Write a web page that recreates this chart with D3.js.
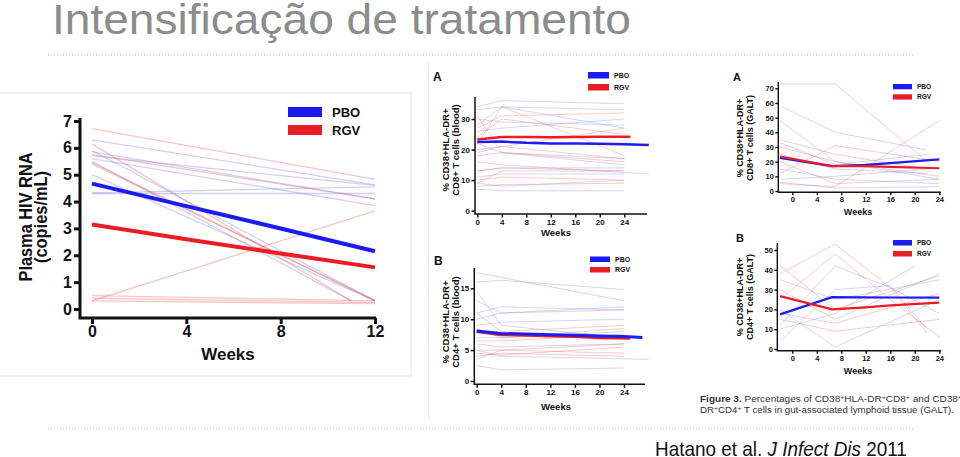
<!DOCTYPE html>
<html><head><meta charset="utf-8">
<script src="https://cdn.jsdelivr.net/npm/d3@7"></script>
<style>
html,body{margin:0;padding:0;background:#fff;overflow:hidden}
svg{display:block}
text{font-family:"Liberation Sans",Arial,sans-serif}
</style></head>
<body>
<svg id="c" width="960" height="457"></svg>
<script>
// ---------------- DATA ----------------
const titleText = "Intensificação de tratamento";
const seriesNames = ["PBO", "RGV"];

// Left: plasma HIV RNA
const leftWeeks = [0, 4, 8, 12];
const leftPBO = [4.67, 3.83, 3.0, 2.15];
const leftRGV = [3.15, 2.6, 2.07, 1.55];
const leftXTicks = [0, 4, 8, 12];
const leftYTicks = [0, 1, 2, 3, 4, 5, 6, 7];
const leftPBOIndiv = [
  [[0, 6.3], [12, 4.62]], [[0, 5.85], [12, 4.1]], [[0, 5.6], [12, 3.85]],
  [[0, 4.3], [12, 4.3]], [[0, 4.32], [12, 4.55]], [[0, 5.0], [12, 0.3]],
  [[0, 5.9], [12, 0.3]], [[0, 5.5], [11, 0.3]], [[0, 5.7], [12, 4.6]]
];
const leftRGVIndiv = [
  [[0, 6.72], [12, 4.83]], [[0, 6.15], [11, 0.3]], [[0, 5.75], [12, 4.1]],
  [[0, 5.45], [12, 0.3]], [[0, 5.4], [12, 0.32]], [[0, 0.3], [12, 3.65]],
  [[0, 0.5], [12, 0.3]], [[0, 0.3], [12, 0.2]], [[0, 0.4], [12, 0.25]]
];

// Middle A: CD8 blood
const cd8bWeeksPBO = [0, 4, 8, 12, 16, 20, 24, 28];
const cd8bPBO = [22.5, 22.6, 22.2, 22.0, 22.0, 21.9, 21.7, 21.5];
const cd8bWeeksRGV = [0, 4, 8, 12, 16, 20, 25];
const cd8bRGV = [23.3, 24.1, 24.1, 24.0, 24.1, 24.2, 24.2];
const bloodXTicks = [0, 4, 8, 12, 16, 20, 24];
const cd8bYTicks = [0, 10, 20, 30];
const cd8bPBOIndiv = [
  [[0, 34], [4, 36], [24, 35]], [[0, 33], [4, 34], [24, 33]], [[0, 30], [4, 29], [24, 28]],
  [[0, 26], [4, 27], [24, 30]], [[0, 22], [4, 19], [24, 15]], [[0, 19], [4, 21], [24, 17]],
  [[0, 13], [4, 14], [24, 14]], [[0, 11], [4, 12], [24, 12]], [[0, 7], [4, 6.5], [24, 6.5]],
  [[0, 28], [4, 34], [24, 27]], [[0, 9], [4, 8], [24, 10]], [[0, 16], [4, 15], [28, 12]]
];
const cd8bRGVIndiv = [
  [[0, 31], [4, 19], [24, 17]], [[0, 27], [4, 31], [24, 32]], [[0, 24], [4, 30], [24, 25]],
  [[0, 20], [4, 21], [24, 27]], [[0, 18], [4, 19], [24, 16]], [[0, 13], [4, 14], [24, 13]],
  [[0, 10], [4, 11], [24, 10]], [[0, 9], [4, 13], [24, 13]], [[0, 8], [4, 8.5], [24, 9]],
  [[0, 22], [4, 34], [24, 18]]
];

// Middle B: CD4 blood
const cd4bWeeksPBO = [0, 4, 8, 12, 16, 20, 24, 27];
const cd4bPBO = [8.1, 7.7, 7.6, 7.5, 7.4, 7.3, 7.2, 7.05];
const cd4bWeeksRGV = [0, 4, 8, 12, 16, 20, 25];
const cd4bRGV = [8.0, 7.5, 7.4, 7.3, 7.2, 7.0, 6.9];
const cd4bYTicks = [0, 5, 10, 15];
const cd4bPBOIndiv = [
  [[0, 16], [4, 16.3], [24, 14.8]], [[0, 11], [4, 12], [24, 11.5]], [[0, 10], [4, 11], [24, 12]],
  [[0, 9], [4, 9.5], [24, 10]], [[0, 7], [4, 7], [24, 8]], [[0, 6], [4, 5.5], [24, 6]],
  [[0, 2.5], [4, 1.8], [24, 2.1]], [[0, 14.5], [4, 9], [24, 7]], [[0, 5], [4, 4], [28, 3.5]]
];
const cd4bRGVIndiv = [
  [[0, 17.5], [24, 13]], [[0, 13], [4, 11], [24, 11.5]], [[0, 11], [4, 8], [24, 9]],
  [[0, 8.5], [4, 7], [24, 8.5]], [[0, 6.5], [4, 6.5], [24, 7.5]], [[0, 5], [4, 5], [24, 6]],
  [[0, 4.5], [4, 4.2], [24, 5.5]], [[0, 4], [4, 4.5], [24, 4]], [[0, 3.5], [4, 5], [24, 4.5]]
];

// Right A: CD8 GALT
const galtXTicks = [0, 4, 8, 12, 16, 20, 24];
const cd8gWeeks = [-2, 6.5, 12, 16, 24];
const cd8gPBO = [22.5, 17, 17.8, 19, 21.5];
const cd8gRGV = [23.5, 17, 17, 16.5, 15.5];
const cd8gYTicks = [0, 10, 20, 30, 40, 50, 60, 70];
const cd8gRGVIndiv = [
  [[-2, 73], [7, 73], [22, 20]], [[-2, 35], [7, 25], [22, 15]], [[-2, 30], [7, 20], [24, 10]],
  [[-2, 12], [7, 31], [24, 20]], [[-2, 5], [7, 3], [24, 48]], [[-2, 20], [7, 5], [24, 8]]
];
const cd8gPBOIndiv = [
  [[-2, 58], [7, 40], [22, 28]], [[-2, 48], [7, 20], [24, 8]], [[-2, 33], [7, 18], [22, 25]],
  [[-2, 15], [7, 8], [24, 5]], [[-2, 8], [7, 10], [22, 15]], [[-2, 6], [7, 2], [24, 3]],
  [[-2, 25], [7, 15], [22, 12]]
];

// Right B: CD4 GALT
const cd4gWeeksPBO = [-2, 6.5, 16, 24];
const cd4gPBO = [17.5, 26.2, 26, 25.9];
const cd4gWeeksRGV = [-2, 6.5, 12, 16, 24];
const cd4gRGV = [26.7, 20, 21, 22, 23.4];
const cd4gYTicks = [0, 10, 20, 30, 40, 50];
const cd4gRGVIndiv = [
  [[-2, 38], [7, 53], [16, 31], [22, 8]], [[-2, 25], [7, 48], [16, 25], [24, 6]],
  [[-2, 42], [7, 20], [24, 37]], [[-2, 15], [7, 9], [24, 15]], [[-2, 18], [7, 13], [24, 28]]
];
const cd4gPBOIndiv = [
  [[-2, 12], [7, 42], [16, 31], [24, 18]], [[-2, 4], [7, 30], [16, 32], [22, 10]],
  [[-2, 35], [7, 25], [24, 35]], [[-2, 20], [7, 1], [24, 25]], [[-2, 30], [7, 15], [24, 38]],
  [[-2, 10], [7, 18], [20, 42]]
];

// ---------------- DRAW ----------------
const svg = d3.select("#c");
const BLUE = "#1c1cf0", RED = "#ec1c24";
const PINK = "rgba(232,110,110,0.40)", LAV = "rgba(120,120,225,0.35)";

// title
svg.append("text").attr("x", 52).attr("y", 34)
  .attr("font-size", 43).attr("fill", "#8c8c8c")
  .attr("textLength", 579).attr("lengthAdjust", "spacingAndGlyphs")
  .text(titleText);
// dotted rules
[55, 429].forEach(yy => svg.append("line").attr("x1", 48).attr("x2", 915).attr("y1", yy).attr("y2", yy)
  .attr("stroke", "#b8b8b8").attr("stroke-width", 1).attr("stroke-dasharray", "1,2"));

// left panel frame
svg.append("rect").attr("x", -1).attr("y", 93).attr("width", 412).attr("height", 283)
  .attr("fill", "none").attr("stroke", "#e2e2e2").attr("stroke-width", 1);
svg.append("line").attr("x1", 428.5).attr("x2", 428.5).attr("y1", 62).attr("y2", 420)
  .attr("stroke", "#ececec");

function zip(w, v) { return w.map((d, i) => [d, v[i]]); }

function panel(c) {
  const g = svg.append("g");
  const x = d3.scaleLinear().domain(c.xDomain).range(c.xRange);
  const y = d3.scaleLinear().domain(c.yDomain).range(c.yRange);
  const line = d3.line().x(d => x(d[0])).y(d => y(d[1]));
  c.indiv.forEach(s => s.data.forEach(pts => g.append("path").attr("d", line(pts))
    .attr("fill", "none").attr("stroke", s.color).attr("stroke-width", c.thinW)));
  c.main.forEach(s => g.append("path").attr("d", line(s.pts)).attr("fill", "none")
    .attr("stroke", s.color).attr("stroke-width", c.mainW).attr("stroke-linejoin", "round"));

  // axes
  const fmt = d3.format("d");
  const xa = g.append("g").attr("transform", `translate(0,${c.xAxisY})`)
    .call(d3.axisBottom(x).tickValues(c.xTicks).tickFormat(fmt).tickSize(c.tick).tickPadding(c.pad).tickSizeOuter(0));
  xa.select(".domain").remove();
  const ya = g.append("g").attr("transform", `translate(${c.yAxisX},0)`)
    .call(d3.axisLeft(y).tickValues(c.yTicks).tickFormat(fmt).tickSize(c.tick).tickPadding(c.pad).tickSizeOuter(0));
  ya.select(".domain").remove();
  [xa, ya].forEach(a => {
    a.selectAll("line").attr("stroke", "#111").attr("stroke-width", c.axW);
    a.selectAll("text").attr("font-size", c.tickFs).attr("font-weight", "bold").attr("fill", "#111")
      .attr("font-family", "'Liberation Sans',Arial,sans-serif");
  });
  g.append("path").attr("d", `M${c.yAxisX},${c.yTop}V${c.xAxisY}H${c.xEnd}`)
    .attr("fill", "none").attr("stroke", "#111").attr("stroke-width", c.axW);

  g.append("text").attr("x", c.weeksX).attr("y", c.weeksY).attr("text-anchor", "middle")
    .attr("font-size", c.titleFs).attr("font-weight", "bold").attr("fill", "#111").text("Weeks");
  c.yTitle.forEach((t, i) => {
    const tt = g.append("text")
      .attr("transform", `translate(${c.yTitleX[i]},${c.yTitleY}) rotate(-90)`)
      .attr("text-anchor", "middle").attr("font-size", c.yTitleFs).attr("font-weight", "bold")
      .attr("fill", "#111").text(t);
    if (c.yTitleLen) tt.attr("textLength", c.yTitleLen[i]).attr("lengthAdjust", "spacingAndGlyphs");
  });
  if (c.letter) g.append("text").attr("x", c.letter[0]).attr("y", c.letter[1])
    .attr("font-size", c.letterFs).attr("font-weight", "bold").attr("fill", "#111").text(c.letter[2]);
  // legend
  seriesNames.forEach((n, i) => {
    const ly = c.leg.y + i * c.leg.dy;
    g.append("rect").attr("x", c.leg.x).attr("y", ly).attr("width", c.leg.w).attr("height", c.leg.h)
      .attr("fill", i === 0 ? BLUE : RED);
    g.append("text").attr("x", c.leg.tx).attr("y", ly + c.leg.h / 2).attr("dy", "0.35em")
      .attr("font-size", c.leg.fs).attr("font-weight", "bold").attr("fill", "#111").text(n);
  });
}

panel({
  xDomain: [0, 12], xRange: [92, 375], yDomain: [0, 7], yRange: [309, 121],
  xAxisY: 318, yAxisX: 80, yTop: 118, xEnd: 376, xTicks: leftXTicks, yTicks: leftYTicks,
  tick: 6, pad: 2, axW: 3, tickFs: 16, titleFs: 17, yTitleFs: 18,
  weeksX: 228, weeksY: 360, yTitle: ["Plasma HIV RNA", "(copies/mL)"], yTitleX: [32, 47], yTitleY: 217,
  yTitleLen: [129, 92],
  thinW: 1.3, mainW: 4,
  indiv: [{ data: leftPBOIndiv, color: LAV }, { data: leftRGVIndiv, color: PINK }],
  main: [{ pts: zip(leftWeeks, leftPBO), color: BLUE }, { pts: zip(leftWeeks, leftRGV), color: RED }],
  leg: { x: 288, y: 107, dy: 18, w: 34, h: 10, tx: 332, fs: 13 }
});

panel({
  xDomain: [0, 24], xRange: [477.3, 624.3], yDomain: [0, 30], yRange: [210.7, 119],
  xAxisY: 214, yAxisX: 475, yTop: 97, xEnd: 647, xTicks: bloodXTicks, yTicks: cd8bYTicks,
  tick: 3.5, pad: 1.5, axW: 1.5, tickFs: 8, titleFs: 9.5, yTitleFs: 9.5,
  weeksX: 556, weeksY: 236, yTitle: ["% CD38+HLA-DR+", "CD8+ T cells (blood)"], yTitleX: [449, 459], yTitleY: 150,
  letter: [433, 81, "A"], letterFs: 12, thinW: 0.9, mainW: 2.5,
  indiv: [{ data: cd8bPBOIndiv, color: LAV }, { data: cd8bRGVIndiv, color: PINK }],
  main: [{ pts: zip(cd8bWeeksRGV, cd8bRGV), color: RED }, { pts: zip(cd8bWeeksPBO, cd8bPBO), color: BLUE }],
  leg: { x: 588, y: 72, dy: 12, w: 21, h: 6.5, tx: 614, fs: 7 }
});

panel({
  xDomain: [0, 24], xRange: [476.7, 624], yDomain: [0, 15], yRange: [381, 288.3],
  xAxisY: 384.3, yAxisX: 474.3, yTop: 268, xEnd: 645, xTicks: bloodXTicks, yTicks: cd4bYTicks,
  tick: 3.5, pad: 1.5, axW: 1.5, tickFs: 8, titleFs: 9.5, yTitleFs: 9.5,
  weeksX: 556, weeksY: 410, yTitle: ["% CD38+HLA-DR+", "CD4+ T cells (blood)"], yTitleX: [449, 459], yTitleY: 322,
  letter: [434, 265, "B"], letterFs: 12, thinW: 0.9, mainW: 3,
  indiv: [{ data: cd4bPBOIndiv, color: LAV }, { data: cd4bRGVIndiv, color: PINK }],
  main: [{ pts: zip(cd4bWeeksRGV, cd4bRGV), color: RED }, { pts: zip(cd4bWeeksPBO, cd4bPBO), color: BLUE }],
  leg: { x: 590, y: 256.5, dy: 10.5, w: 20, h: 5.5, tx: 615, fs: 7 }
});

panel({
  xDomain: [0, 24], xRange: [792.3, 939.3], yDomain: [0, 70], yRange: [191, 88.3],
  xAxisY: 192.3, yAxisX: 778.3, yTop: 82, xEnd: 941, xTicks: galtXTicks, yTicks: cd8gYTicks,
  tick: 3, pad: 1.5, axW: 1.4, tickFs: 7.5, titleFs: 9, yTitleFs: 9,
  weeksX: 858, weeksY: 215, yTitle: ["% CD38+HLA-DR+", "CD8+ T cells (GALT)"], yTitleX: [743, 753], yTitleY: 138,
  letter: [733, 81, "A"], letterFs: 11, thinW: 0.9, mainW: 2.2,
  indiv: [{ data: cd8gPBOIndiv, color: LAV }, { data: cd8gRGVIndiv, color: PINK }],
  main: [{ pts: zip(cd8gWeeks, cd8gPBO), color: BLUE }, { pts: zip(cd8gWeeks, cd8gRGV), color: RED }],
  leg: { x: 893, y: 84, dy: 10.3, w: 19, h: 5.3, tx: 917, fs: 6.5 }
});

panel({
  xDomain: [0, 24], xRange: [792.3, 939.3], yDomain: [0, 50], yRange: [349, 250],
  xAxisY: 350.7, yAxisX: 777.3, yTop: 243, xEnd: 941, xTicks: galtXTicks, yTicks: cd4gYTicks,
  tick: 3, pad: 1.5, axW: 1.4, tickFs: 7.5, titleFs: 9, yTitleFs: 9,
  weeksX: 858, weeksY: 374, yTitle: ["% CD38+HLA-DR+", "CD4+ T cells (GALT)"], yTitleX: [743, 753], yTitleY: 297,
  letter: [736, 242, "B"], letterFs: 11, thinW: 0.9, mainW: 2.2,
  indiv: [{ data: cd4gPBOIndiv, color: LAV }, { data: cd4gRGVIndiv, color: PINK }],
  main: [{ pts: zip(cd4gWeeksPBO, cd4gPBO), color: BLUE }, { pts: zip(cd4gWeeksRGV, cd4gRGV), color: RED }],
  leg: { x: 893, y: 240, dy: 11, w: 19, h: 5.5, tx: 917, fs: 6.5 }
});

// caption
function caption(yy, parts, len) {
  const t = svg.append("text").attr("x", 700).attr("y", yy).attr("font-size", 8.5).attr("fill", "#333")
    .attr("font-family", "'Liberation Sans Narrow','Liberation Sans',Arial,sans-serif")
    .attr("textLength", len).attr("lengthAdjust", "spacingAndGlyphs");
  parts.forEach(p => {
    const s = t.append("tspan").text(p[0]);
    if (p[1] === "b") s.attr("font-weight", "bold");
    if (p[1] === "sup") s.attr("baseline-shift", "super").attr("font-size", 6);
  });
}
caption(401.5, [["Figure 3.", "b"], ["  Percentages  of  CD38"], ["+", "sup"], ["HLA-DR"], ["+", "sup"], ["CD8"], ["+", "sup"], ["  and  CD38"], ["+", "sup"]], 262);
caption(412.5, [["DR"], ["+", "sup"], ["CD4"], ["+", "sup"], ["  T  cells  in  gut-associated  lymphoid  tissue  (GALT)."]], 254);

// citation: one text element, horizontally condensed by a transform
const cit = svg.append("text").attr("x", 0).attr("y", 0).attr("font-size", 20).attr("fill", "#111");
cit.append("tspan").text("Hatano et al. ");
cit.append("tspan").attr("font-style", "italic").text("J Infect Dis");
cit.append("tspan").text(" 2011");
const citW = cit.node().getComputedTextLength();
cit.attr("transform", `translate(655,456) scale(${252 / citW},1)`);
</script>
</body></html>
